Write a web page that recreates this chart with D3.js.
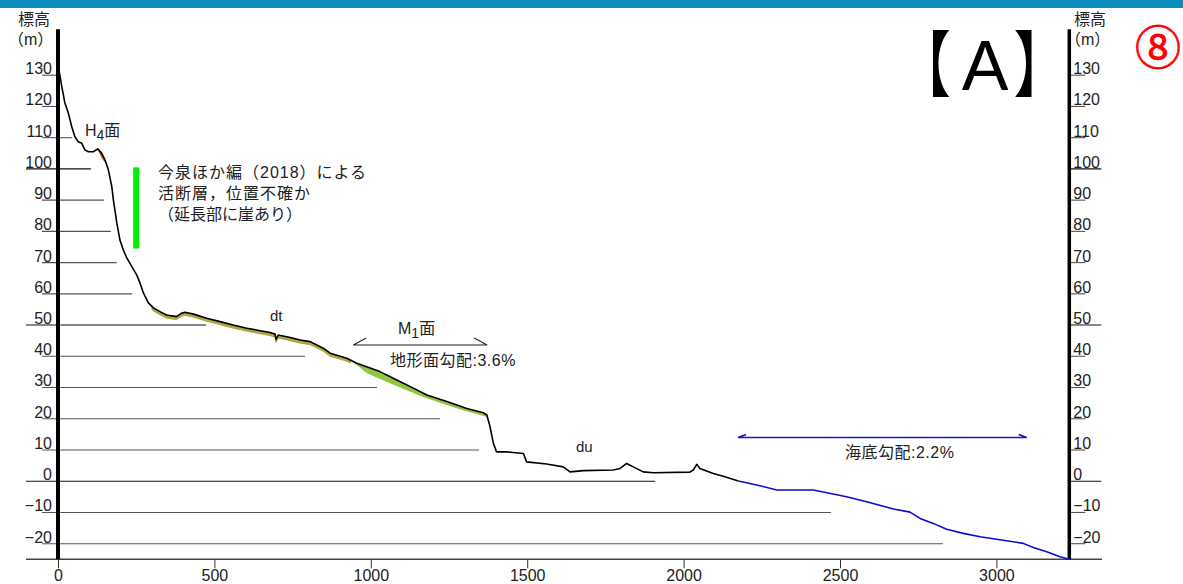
<!DOCTYPE html>
<html><head><meta charset="utf-8">
<script src="https://cdn.jsdelivr.net/npm/d3@7"></script>
<style>
body{margin:0;background:#fff;}
svg{display:block;}
text{font-family:"Liberation Sans","Noto Sans CJK JP",sans-serif;}
</style>
</head><body>
<svg id="c" width="1183" height="584"></svg>
<script>
// ---- data (distance m, elevation m) ----
const landProfile = [
 [0,133.5],[12,126.4],[22,121.1],[33,117.9],[44,113.5],[54,110.3],[65,108.7],[76,108.2],[86,106.1],[97,105.5],
 [113,105.5],[127,106.4],[140,105.0],[150,102.9],[161,99.7],[172,94.3],[177,90.1],[188,82.7],[198,77.2],[209,74.0],
 [220,71.5],[236,68.7],[252,66.0],[262,63.5],[273,60.3],[289,57.1],[305,55.5],[326,54.3],[347,53.2],[379,52.7],
 [395,53.8],[406,54.1],[433,53.5],[475,52.2],[518,51.1],[560,50.0],[603,49.0],[646,48.2],[678,47.6],[694,47.1],
 [697,45.4],[704,46.8],[742,46.0],[774,45.2],[806,44.7],[848,42.6],[870,41.0],[923,39.4],[955,37.8],[1029,35.1],
 [1083,32.4],[1136,29.8],[1179,27.6],[1243,25.5],[1307,23.3],[1360,21.9],[1371,21.2],[1381,17.5],[1392,12.1],[1402,9.4],
 [1434,9.4],[1488,8.9],[1498,6.2],[1562,5.5],[1615,4.6],[1637,3.0],[1679,3.4],[1775,3.6],[1797,4.1],[1818,5.7],
 [1839,4.6],[1871,3.0],[1903,2.7],[2020,2.9],[2031,3.6],[2042,5.4],[2052,4.1],[2095,2.5],[2132,1.4],[2175,0.1]
];
const seaProfile = [
 [2175,0.1],[2234,-1.2],[2298,-2.8],[2415,-2.8],[2521,-5.0],[2585,-6.6],[2671,-8.9],[2724,-9.9],[2756,-11.9],
 [2798,-13.5],[2841,-15.4],[2894,-16.7],[2948,-17.8],[3001,-18.6],[3086,-19.9],[3118,-21.2],[3161,-22.6],[3203,-24.2],[3233,-25.0]
];
const m1Base = [[943,38.2],[988,34.6],[1061,31.4],[1167,27.0],[1276,23.3],[1372,20.6]];
const dtRange = [300, 935];   const dtDepth = 1.0;
const h4Range = [124, 156];   const h4Depth = 1.6;
const elevTicks = [130,120,110,100,90,80,70,60,50,40,30,20,10,0,-10,-20];
const guideEnds = [0,0,45,105,147,169,188,237,473,790,1020,1221,1346,1909,2471,2829];
const majorLevels = [100,50,0];
const distTicks = [0,500,1000,1500,2000,2500,3000];
const faultMark = {dist:250, top:100.5, bottom:74.5};
const m1Span = {from:944, to:1372, elev:43.6};
const seaSpan = {from:2174, to:3097, elev:14.0};
const distMax = 3233;
const elevDomain = [-25, 144.7];

// ---- scales ----
const svg = d3.select("#c");
const x = d3.scaleLinear().domain([0, distMax]).range([58, 1069.3]);
const y = d3.scaleLinear().domain(elevDomain).range([559.3, 29.3]);

function interp(p, d){
  for(let i=1;i<p.length;i++){
    if(d<=p[i][0]){const a=p[i-1],b=p[i];return a[1]+(b[1]-a[1])*(d-a[0])/(b[0]-a[0]);}
  }
  return p[p.length-1][1];
}
function segment(p, a, b){
  const out=[[a,interp(p,a)]];
  p.forEach(q=>{if(q[0]>a&&q[0]<b)out.push(q);});
  out.push([b,interp(p,b)]);
  return out;
}

// top bar
svg.append("rect").attr("x",0).attr("y",0).attr("width",1183).attr("height",8).attr("fill","#0b8ebf");

// guide lines
elevTicks.forEach((lv,i)=>{
  const major = majorLevels.includes(lv);
  svg.append("line")
    .attr("x1", major?26:42).attr("x2", Math.max(x(guideEnds[i]), x(0)))
    .attr("y1", y(lv)).attr("y2", y(lv))
    .attr("stroke", major?"#111":"#555").attr("stroke-width",1.1);
  svg.append("line")
    .attr("x1", x(distMax)).attr("x2", x(distMax)+(major?32:16))
    .attr("y1", y(lv)).attr("y2", y(lv))
    .attr("stroke", major?"#111":"#555").attr("stroke-width",1.1);
});

// bottom axis
svg.append("line").attr("x1",26).attr("x2",1102).attr("y1",y(-25)).attr("y2",y(-25))
  .attr("stroke","#444").attr("stroke-width",1.4);
const xAxis = svg.append("g").attr("transform",`translate(0,${y(-25)})`)
  .call(d3.axisBottom(x).tickValues(distTicks).tickSize(9).tickSizeOuter(0).tickPadding(3).tickFormat(d3.format("d")));
xAxis.select(".domain").remove();
xAxis.selectAll("line").attr("stroke","#333");
xAxis.selectAll("text").attr("font-size",16).attr("font-family","Liberation Sans").attr("fill","#222").attr("dy","0.62em");

// y labels left/right
const fmt = d=>d<0?"\u2212"+Math.abs(d):String(d);
const yl = svg.append("g").attr("transform",`translate(${x(0)},0)`)
  .call(d3.axisLeft(y).tickValues(elevTicks).tickSize(0).tickPadding(6).tickFormat(fmt));
yl.select(".domain").remove();
yl.selectAll("text").attr("font-size",16).attr("font-family","Liberation Sans").attr("fill","#222").attr("dy","-0.1em");
const yr = svg.append("g").attr("transform",`translate(${x(distMax)},0)`)
  .call(d3.axisRight(y).tickValues(elevTicks).tickSize(0).tickPadding(4).tickFormat(fmt));
yr.select(".domain").remove();
yr.selectAll("text").attr("font-size",16).attr("font-family","Liberation Sans").attr("fill","#222").attr("dy","-0.1em");

// axes verticals
svg.append("line").attr("x1",x(0)).attr("x2",x(0)).attr("y1",y(elevDomain[1])).attr("y2",y(-25))
  .attr("stroke","#000").attr("stroke-width",4);
svg.append("line").attr("x1",x(distMax)).attr("x2",x(distMax)).attr("y1",y(elevDomain[1])).attr("y2",y(-25))
  .attr("stroke","#000").attr("stroke-width",3.5);

// fills
const area = d3.area().x(d=>x(d[0])).y0(d=>y(d[2])).y1(d=>y(d[1]));
svg.append("path").datum(segment(landProfile,dtRange[0],dtRange[1]).map(p=>[p[0],p[1],p[1]-dtDepth]))
  .attr("d",area).attr("fill","#b3ab3c").attr("stroke","#8f8a2a").attr("stroke-width",0.6);
svg.append("path").datum(segment(landProfile,h4Range[0],h4Range[1]).map(p=>[p[0],p[1],p[1]-h4Depth*Math.sin(Math.PI*(p[0]-h4Range[0])/(h4Range[1]-h4Range[0]))]))
  .attr("d",area).attr("fill","#c8642a");
const m1Top = segment(landProfile, m1Base[0][0], m1Base[m1Base.length-1][0]);
const m1Poly = m1Top.map(p=>[x(p[0]),y(p[1])]).concat(m1Base.slice().reverse().map(p=>[x(p[0]),y(p[1])]));
svg.append("path").attr("d", d3.line()(m1Poly)+"Z").attr("fill","#8dc63f");

// profiles
const line = d3.line().x(d=>x(d[0])).y(d=>y(d[1]));
svg.append("path").datum(landProfile).attr("d",line).attr("fill","none").attr("stroke","#000").attr("stroke-width",1.6).attr("stroke-linejoin","round");
svg.append("path").datum(seaProfile).attr("d",line).attr("fill","none").attr("stroke","#0a0ad2").attr("stroke-width",1.6).attr("stroke-linejoin","round");

// fault marker
svg.append("line").attr("x1",x(faultMark.dist)).attr("x2",x(faultMark.dist))
  .attr("y1",y(faultMark.top)).attr("y2",y(faultMark.bottom)).attr("stroke","#00ee00").attr("stroke-width",6);

// span brackets
function span(s, col, w, bx, by){
  const x1=x(s.from), x2=x(s.to), yy=y(s.elev);
  svg.append("path").attr("d",`M${x1+bx},${yy-by}L${x1},${yy}L${x2},${yy}L${x2-bx},${yy-by}`)
    .attr("fill","none").attr("stroke",col).attr("stroke-width",w);
}
span(m1Span,"#222",1.1,13,7);
span(seaSpan,"#1515d5",1.6,8,3);

// texts
function txt(s,xx,yy,fs,extra){
  const t=svg.append("text").attr("x",xx).attr("y",yy).attr("font-size",fs).attr("fill","#222").text(s);
  if(extra) extra(t);
  return t;
}
txt("標高",18,25,16);
txt("（m）",8,45,16);
txt("標高",1074,25,16);
txt("（m）",1065,45,16);

const h4=svg.append("text").attr("x",85).attr("y",136).attr("font-size",16).attr("fill","#222");
h4.append("tspan").text("H");
h4.append("tspan").attr("dy",4).attr("font-size",14).text("4");
h4.append("tspan").attr("dy",-4).text("面");

txt("今泉ほか編（2018）による",158,178,16,t=>t.attr("letter-spacing",1));
txt("活断層，位置不確か",158,199,16,t=>t.attr("letter-spacing",1));
txt("（延長部に崖あり）",158,220,16,t=>t.attr("letter-spacing",0));

txt("dt",270,321,15);
const m1=svg.append("text").attr("x",398).attr("y",334).attr("font-size",16).attr("fill","#222");
m1.append("tspan").text("M");
m1.append("tspan").attr("dy",4).attr("font-size",14).text("1");
m1.append("tspan").attr("dy",-4).text("面");
txt("地形面勾配:3.6%",390,366,16,t=>t.attr("letter-spacing",0.5));
txt("du",576,452,15);
txt("海底勾配:2.2%",845,458,16,t=>t.attr("letter-spacing",0.5));

// title
svg.append("text").attr("transform","translate(897,90) scale(0.75,1)").attr("font-size",72)
  .attr("font-family","Noto Sans CJK JP").attr("fill","#000").text("【");
txt("A",985,90,70,t=>t.attr("text-anchor","middle").attr("fill","#000"));
svg.append("text").attr("transform","translate(1013.5,90) scale(0.75,1)").attr("font-size",72)
  .attr("font-family","Noto Sans CJK JP").attr("fill","#000").text("】");
txt("⑧",1158,64,46,t=>t.attr("text-anchor","middle").attr("font-family","Noto Sans CJK JP")
  .attr("fill","#ff0000").attr("stroke","#ff0000").attr("stroke-width",0.8));
</script>
</body></html>
